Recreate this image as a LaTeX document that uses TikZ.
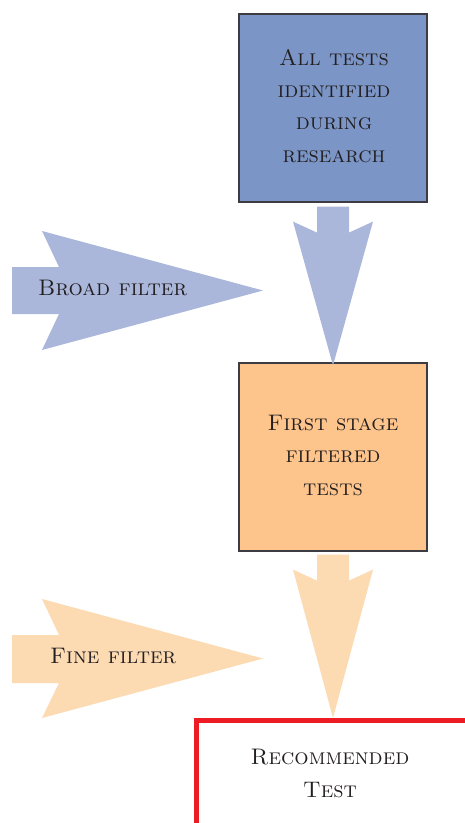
\documentclass[tikz,border=0pt]{standalone}
\usetikzlibrary{calc}
\definecolor{boxblue}{RGB}{123,149,198}
\definecolor{arrowblue}{RGB}{170,183,219}
\definecolor{boxorange}{RGB}{253,196,140}
\definecolor{arrowpeach}{RGB}{252,218,178}
\definecolor{recred}{RGB}{237,28,36}
\definecolor{inkgray}{RGB}{35,31,32}
\definecolor{framegray}{RGB}{60,60,66}
\begin{document}
\begin{tikzpicture}[x=1pt,y=-1pt,
  label text/.style={text=inkgray,font=\fontsize{22.5}{32.3}\selectfont\scshape,align=center,inner sep=0pt,anchor=base},
  stagebox/.style={draw=framegray,line width=1.2pt,minimum width=188pt,minimum height=188pt,inner sep=0pt}]
\path[use as bounding box] (0,0) rectangle (464,823);

% stage boxes (multi-line labels are placed by the baseline of their last line)
\node[stagebox,fill=boxblue] (all) at (333,108) {};
\node[label text] (allText) at (334,162) {All tests\\identified\\during\\research};
\node[stagebox,fill=boxorange] (first) at (333,457) {};
\node[label text] (firstText) at (333,495) {First stage\\filtered\\tests};

% final box, open to the right and bottom
\draw[recred,line width=5pt] (196,830) -- (196,720) -- (470,720);
\coordinate (recTop) at (333,718);
\node[label text] (rec) at (330,797) {Recommended\\Test};

% downward arrows between the stages
\fill[arrowblue]
  ($(all.south)+(-16,4)$) -- ($(all.south)+(16,4)$) -- ($(all.south)+(16,30)$)
  -- ($(all.south)+(40,19)$) -- ($(first.north)+(0,3)$)
  -- ($(all.south)+(-40,19)$) -- ($(all.south)+(-16,30)$) -- cycle;
\fill[arrowpeach]
  ($(first.south)+(-16,3)$) -- ($(first.south)+(16,3)$) -- ($(first.south)+(16,29)$)
  -- ($(first.south)+(40,18)$) -- (recTop)
  -- ($(first.south)+(-40,18)$) -- ($(first.south)+(-16,29)$) -- cycle;

% filter arrows from the left
\fill[arrowblue] (12,267) -- (59,267) -- (42,231) -- (263,290.5) -- (42,350) -- (59,314) -- (12,314) -- cycle;
\node[label text,anchor=base west] (broad) at (38,295) {Broad filter};
\fill[arrowpeach] (12,635) -- (59,635) -- (42,599) -- (263,658.5) -- (42,718) -- (59,683) -- (12,683) -- cycle;
\node[label text,anchor=base west] (fine) at (50,663) {Fine filter};
\end{tikzpicture}
\end{document}
